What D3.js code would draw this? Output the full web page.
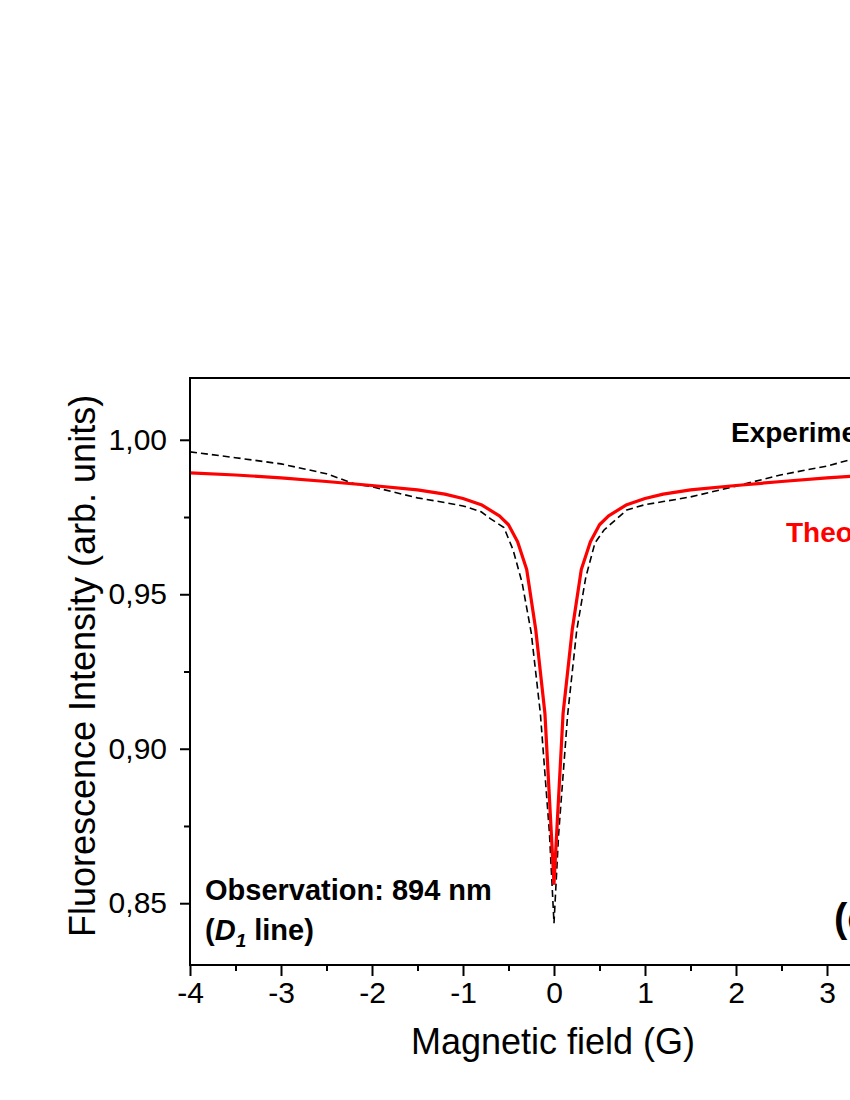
<!DOCTYPE html>
<html>
<head>
<meta charset="utf-8">
<script src="https://cdn.jsdelivr.net/npm/d3@7"></script>
<style>
  body { margin: 0; background: #fff; }
  svg { display: block; font-family: "Liberation Sans", Arial, sans-serif; }
</style>
</head>
<body>
<div id="chart"></div>
<script>

// DATA
// --------------------------------------------------------------------------

var theoryField = [-4, -3.5, -3, -2.5, -2, -1.5, -1.2, -1, -0.8, -0.6, -0.5,
  -0.4, -0.3, -0.2, -0.1, 0, 0.1, 0.2, 0.3, 0.4, 0.5, 0.6, 0.8, 1, 1.2, 1.5,
  2, 2.5, 3, 3.5, 4];
var theoryValue = [0.9893, 0.9886, 0.9877, 0.9865, 0.9852, 0.9838, 0.9824,
  0.9810, 0.9790, 0.9754, 0.9725, 0.9670, 0.9580, 0.9384, 0.9115, 0.8564,
  0.9115, 0.9384, 0.9580, 0.9670, 0.9725, 0.9754, 0.9790, 0.9810, 0.9824,
  0.9838, 0.9852, 0.9865, 0.9877, 0.9886, 0.9893];

var expField = [-4, -3.5, -3, -2.5, -2.2, -2, -1.5, -1.2, -1, -0.8, -0.7,
  -0.55, -0.45, -0.35, -0.25, -0.15, -0.05, 0, 0.05, 0.15, 0.25, 0.35, 0.45,
  0.55, 0.7, 0.8, 1, 1.2, 1.5, 2, 2.5, 3, 3.25, 3.5, 4];
var expValue = [0.9961, 0.9942, 0.9922, 0.9890, 0.9858, 0.9848, 0.9812,
  0.9797, 0.9786, 0.9767, 0.9745, 0.9716, 0.9644, 0.9537, 0.9375, 0.9115,
  0.8727, 0.8435, 0.8720, 0.9110, 0.9384, 0.9556, 0.9666, 0.9708, 0.9747,
  0.9773, 0.9790, 0.9800, 0.9815, 0.9850, 0.9887, 0.9915, 0.9935, 0.9945,
  0.9960];

// Ticks at 4 fall outside the visible picture.
var xTicks = [-4, -3, -2, -1, 0, 1, 2, 3];
var xTickLabels = ['-4', '-3', '-2', '-1', '0', '1', '2', '3'];
var xMinorTicks = [-3.5, -2.5, -1.5, -0.5, 0.5, 1.5, 2.5];
var yTicks = [0.85, 0.90, 0.95, 1.00];
var yTickLabels = ['0,85', '0,90', '0,95', '1,00'];
var yMinorTicks = [0.875, 0.925, 0.975];


// SETUP
// --------------------------------------------------------------------------

var W = 850, H = 1100;

var svg = d3.select('#chart').append('svg')
  .attr('width', W).attr('height', H);

var x = d3.scaleLinear().domain([-4, 4]).range([190, 918]);
var y = d3.scaleLinear().domain([0.83, 1.02]).range([965, 378]);


// AXES
// --------------------------------------------------------------------------

var xAxis = d3.axisBottom(x).tickValues(xTicks)
  .tickSize(11).tickPadding(6)
  .tickFormat(function(d, i) { return xTickLabels[i]; });
var xMinor = d3.axisBottom(x).tickValues(xMinorTicks)
  .tickSize(6).tickFormat('');
var yAxis = d3.axisLeft(y).tickValues(yTicks)
  .tickSize(10).tickPadding(13)
  .tickFormat(function(d, i) { return yTickLabels[i]; });
var yMinor = d3.axisLeft(y).tickValues(yMinorTicks)
  .tickSize(6).tickFormat('');

function styleAxis(g) {
  g.select('.domain').remove();
  g.selectAll('line').attr('stroke', '#000').attr('stroke-width', 2);
  g.selectAll('text').attr('fill', '#000')
    .style('font-size', '30px')
    .style('font-family', '"Liberation Sans", Arial, sans-serif');
}

svg.append('g').attr('transform', 'translate(0,965)').call(xAxis)
  .call(styleAxis);
svg.append('g').attr('transform', 'translate(0,965)').call(xMinor)
  .call(styleAxis);
svg.append('g').attr('transform', 'translate(190,0)').call(yAxis)
  .call(styleAxis);
svg.append('g').attr('transform', 'translate(190,0)').call(yMinor)
  .call(styleAxis);


// CURVES
// --------------------------------------------------------------------------

var line = d3.line()
  .x(function(d) { return x(d[0]); })
  .y(function(d) { return y(d[1]); });

svg.append('path')
  .datum(d3.zip(expField, expValue))
  .attr('d', line)
  .attr('fill', 'none')
  .attr('stroke', '#000')
  .attr('stroke-width', 1.6)
  .attr('stroke-dasharray', '7,4');

svg.append('path')
  .datum(d3.zip(theoryField, theoryValue))
  .attr('d', line)
  .attr('fill', 'none')
  .attr('stroke', '#ff0000')
  .attr('stroke-width', 3.2)
  .attr('stroke-linejoin', 'round');

// Frame on top of the curves.
svg.append('rect')
  .attr('x', x(-4)).attr('y', y(1.02))
  .attr('width', x(4) - x(-4)).attr('height', y(0.83) - y(1.02))
  .attr('fill', 'none').attr('stroke', '#000').attr('stroke-width', 2);


// LABELS
// --------------------------------------------------------------------------

svg.append('text')
  .attr('x', 553).attr('y', 1054)
  .attr('text-anchor', 'middle')
  .style('font-size', '36px')
  .text('Magnetic field (G)');

svg.append('text')
  .attr('transform', 'translate(95,666) rotate(-90)')
  .attr('text-anchor', 'middle')
  .style('font-size', '36px')
  .text('Fluorescence Intensity (arb. units)');

// These run past the right edge, as in the source figure.
svg.append('text')
  .attr('x', 731).attr('y', 442)
  .style('font-size', '28px').style('font-weight', 'bold')
  .text('Experiment');

svg.append('text')
  .attr('x', 786).attr('y', 542)
  .attr('fill', '#ff0000')
  .style('font-size', '28px').style('font-weight', 'bold')
  .text('Theory');

svg.append('text')
  .attr('x', 205).attr('y', 900)
  .style('font-size', '29px').style('font-weight', 'bold')
  .text('Observation: 894 nm');

var d1 = svg.append('text')
  .attr('x', 205).attr('y', 940)
  .style('font-size', '29px').style('font-weight', 'bold');
d1.append('tspan').text('(');
d1.append('tspan').style('font-style', 'italic').text('D');
d1.append('tspan').style('font-style', 'italic').style('font-size', '19px')
  .attr('dy', 7).text('1');
d1.append('tspan').attr('dy', -7).text(' line)');

svg.append('text')
  .attr('x', 834).attr('y', 932)
  .style('font-size', '40px').style('font-weight', 'bold')
  .text('(c)');

</script>
</body>
</html>
